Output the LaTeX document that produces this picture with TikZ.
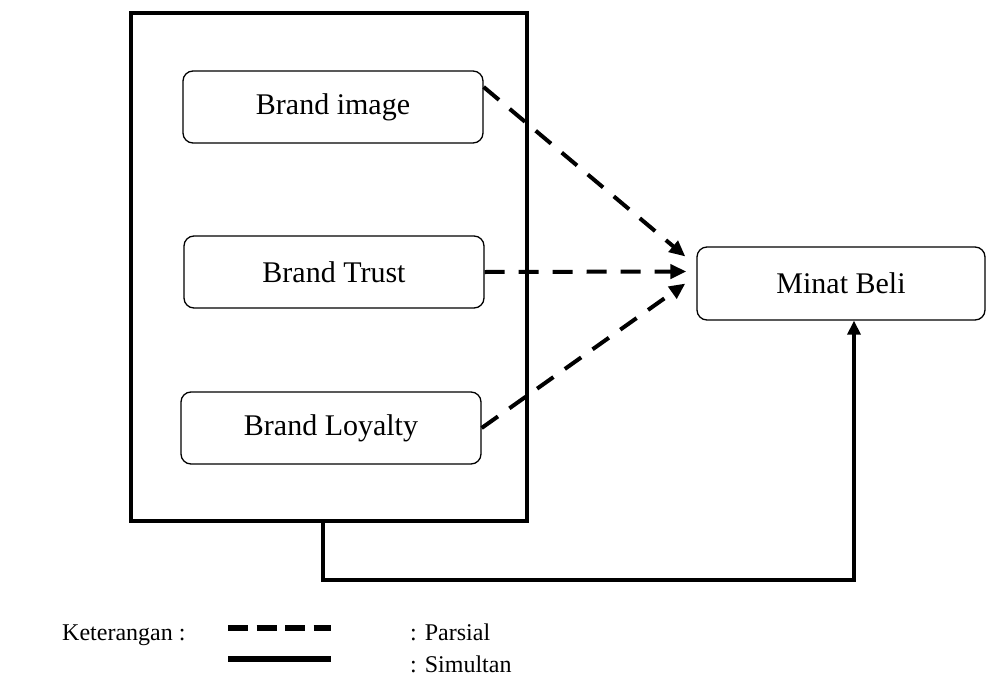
\documentclass[tikz,border=0pt]{standalone}
\usepackage{fontspec}
\setmainfont{Liberation Serif}
\usetikzlibrary{arrows.meta}
\begin{document}
\begin{tikzpicture}[x=1pt,y=-1pt,
  var/.style={draw, line width=1.3pt, rounded corners=10pt, minimum width=300pt, minimum height=72pt, font=\fontsize{30}{34}\selectfont, inner sep=0pt},
  part/.style={line width=4pt, dash pattern=on 20pt off 14pt, -{Triangle[length=16pt,width=14pt]}},
  sim/.style={line width=4pt, -{Triangle[length=14pt,width=13pt]}},
  lbl/.style={font=\fontsize{24}{28}\selectfont, inner sep=0pt, anchor=base west}]
\useasboundingbox (0,0) rectangle (986,699);
\node[draw, line width=4.5pt, minimum width=396pt, minimum height=508pt, inner sep=0pt] (group) at (329,267) {};
\node[var] (bi) at (333,107) {Brand image};
\node[var] (bt) at (334,272) {Brand Trust};
\node[var] (bl) at (331,428) {Brand Loyalty};
\node[var, minimum width=288pt, minimum height=73pt] (mb) at (841,283.5) {Minat Beli};
\coordinate (t1) at ([xshift=-11pt,yshift=27pt]mb.west);
\coordinate (t2) at ([xshift=-10pt,yshift=12pt]mb.west);
\coordinate (t3) at ([xshift=-11pt,yshift=0pt]mb.west);
\coordinate (up) at ([xshift=13pt]mb.south);
\draw[part] ([yshift=20pt]bi.east) -- (t1);
\draw[part] (bt.east) -- (t2);
\draw[part] (bl.east) -- (t3);
\draw[sim] ([xshift=-6pt]group.south) -- ++(0,57) -| (up);
% legend
\node[lbl] (ket) at (62,640) {Keterangan :};
\node[lbl] (par) at (410,640) {: Parsial};
\node[lbl] (simu) at (410,672) {: Simultan};
\coordinate (d1) at (228,628);
\coordinate (d2) at (331,628);
\coordinate (s1) at (228,659);
\coordinate (s2) at (331,659);
\draw[line width=5.5pt, dash pattern=on 20pt off 8.5pt] (d1) -- (d2);
\draw[line width=5.5pt] (s1) -- (s2);
\end{tikzpicture}
\end{document}
